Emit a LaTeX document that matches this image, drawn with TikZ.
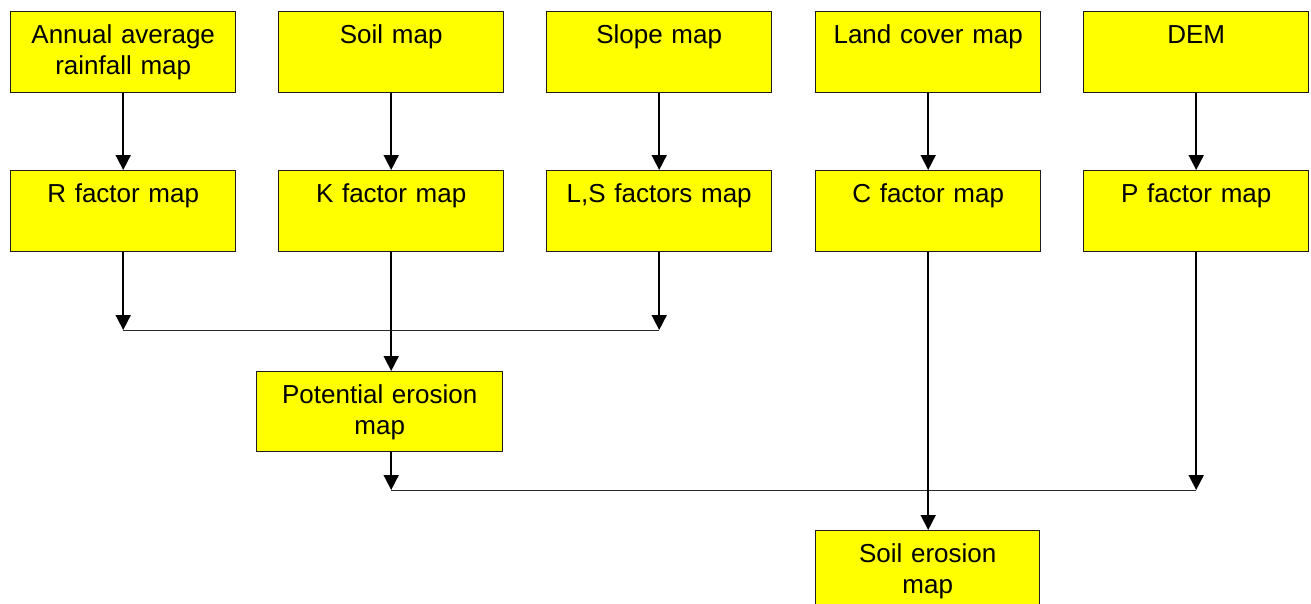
\documentclass[tikz,border=0pt]{standalone}
\usepackage{fontspec}
\setmainfont{Liberation Sans}
\usetikzlibrary{arrows.meta}
\definecolor{mapyellow}{RGB}{255,255,0}
\definecolor{mapedge}{RGB}{30,30,30}
\definecolor{joingray}{RGB}{40,40,40}
\begin{document}
\begin{tikzpicture}[x=1pt,y=-1pt,
  mapbox/.style={draw=mapedge, line width=1.4pt, fill=mapyellow,
    minimum width=225pt, minimum height=81pt, inner sep=0pt,
    text width=225pt, align=center, text height=32pt, text depth=49pt,
    font=\fontsize{26}{31}\selectfont, anchor=north west},
  flow/.style={line width=1.7pt, -{Triangle[width=15pt,length=15pt]}},
  joinline/.style={draw=joingray, line width=0.9pt}]
\useasboundingbox (0,0) rectangle (1311,603);

% input maps
\node[mapbox] (rain)  at (10,11)   {Annual average\\rainfall map};
\node[mapbox] (soilm) at (278,11)  {Soil map};
\node[mapbox] (slope) at (546,11)  {Slope map};
\node[mapbox] (land)  at (815,11)  {Land cover map};
\node[mapbox] (dem)   at (1083,11) {DEM};

% factor maps
\node[mapbox] (rfac)  at (10,170)   {R factor map};
\node[mapbox] (kfac)  at (278,170)  {K factor map};
\node[mapbox] (lsfac) at (546,170)  {L,S factors map};
\node[mapbox] (cfac)  at (815,170)  {C factor map};
\node[mapbox] (pfac)  at (1083,170) {P factor map};

% results
\node[mapbox, minimum width=246pt, text width=246pt, minimum height=80pt,
      text depth=48pt] (pot) at (256,371) {Potential erosion\\map};
\node[mapbox, minimum width=224pt, text width=224pt] (soil) at (815,530)
      {Soil erosion\\map};

% junction levels
\coordinate (lvl1) at (0,330);
\coordinate (lvl2) at (0,490);

% inputs to factors
\draw[flow] (rain.south)  -- (rfac.north);
\draw[flow] (soilm.south) -- (kfac.north);
\draw[flow] (slope.south) -- (lsfac.north);
\draw[flow] (land.south)  -- (cfac.north);
\draw[flow] (dem.south)   -- (pfac.north);

% R, K, L,S combine into potential erosion
\draw[joinline] (rfac.south |- lvl1) -- (lsfac.south |- lvl1);
\draw[flow] (rfac.south)  -- (rfac.south |- lvl1);
\draw[flow] (lsfac.south) -- (lsfac.south |- lvl1);
\draw[flow] (kfac.south)  -- (kfac.south |- pot.north);

% potential erosion, C and P combine into soil erosion
\draw[joinline] (kfac.south |- lvl2) -- (pfac.south |- lvl2);
\draw[flow] (kfac.south |- pot.south) -- (kfac.south |- lvl2);
\draw[flow] (pfac.south) -- (pfac.south |- lvl2);
\draw[flow] (cfac.south) -- (cfac.south |- soil.north);
\end{tikzpicture}
\end{document}
